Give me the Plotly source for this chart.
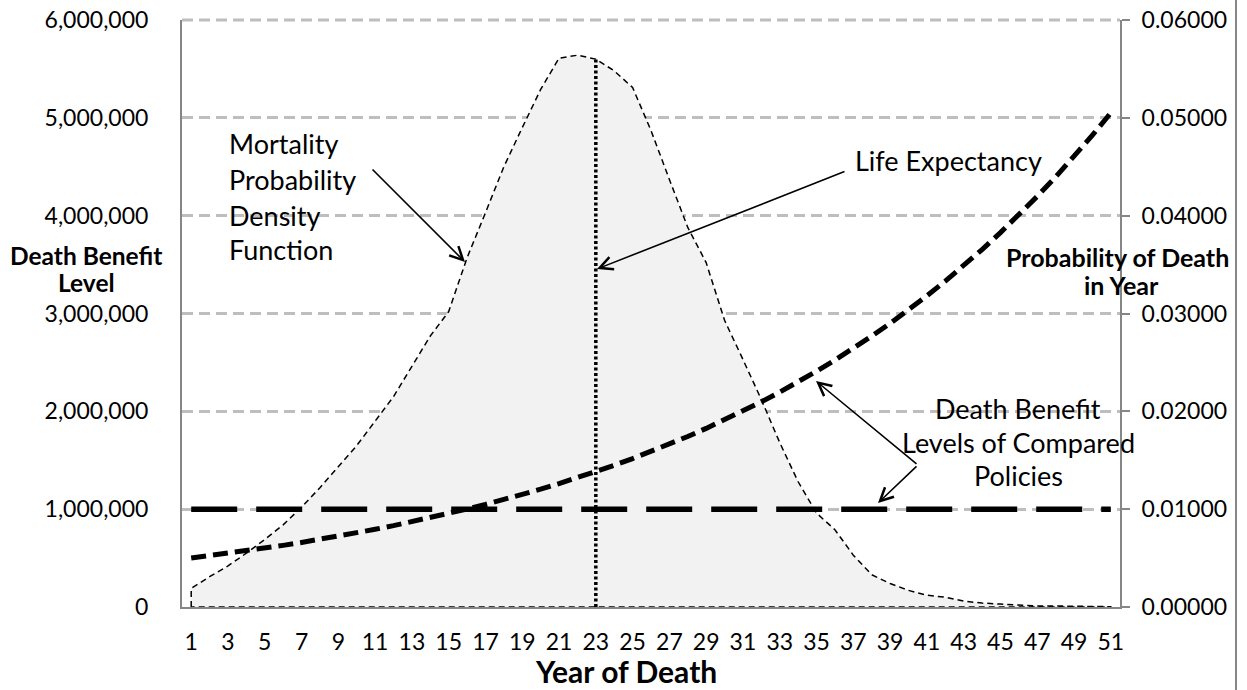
import plotly.graph_objects as go

# ---------------- data ----------------
years = list(range(1, 52))
tick_years = list(range(1, 52, 2))

mortality_density = [
    0.0019, 0.0031, 0.0042, 0.0055, 0.0069, 0.0084, 0.0102, 0.0122, 0.0143, 0.0165,
    0.0190, 0.0215, 0.0246, 0.0277, 0.0302, 0.0357, 0.0403, 0.0450, 0.0490, 0.0529,
    0.0561, 0.0564, 0.0560, 0.0548, 0.0531, 0.0487, 0.0437, 0.0388, 0.0352, 0.0293,
    0.0253, 0.0212, 0.0168, 0.0128, 0.0096, 0.0079, 0.0053, 0.0033, 0.0024, 0.0017,
    0.0012, 0.0010, 0.0006, 0.0004, 0.0003, 0.0002, 0.0001, 0.0001, 0.0001, 0.00005,
    0.00003,
]

increasing_benefit = [
    500000, 523670, 548460, 574424, 601617, 630098, 659927, 691168, 723888, 758157,
    794048, 831638, 871008, 912242, 955427, 1000657, 1048028, 1097641, 1149603, 1204025,
    1261023, 1320719, 1383242, 1448724, 1517306, 1589135, 1664365, 1743155, 1825675, 1912102,
    2002620, 2097423, 2196714, 2300705, 2409619, 2523689, 2643159, 2768285, 2899335, 3036589,
    3180341, 3330897, 3488580, 3653728, 3826694, 4007849, 4197580, 4396293, 4604412, 4822383,
    5050672,
]

level_benefit = [1000000] * 51

life_expectancy_year = 23

left_ticks = [0, 1000000, 2000000, 3000000, 4000000, 5000000, 6000000]
right_ticks = [0.0, 0.01, 0.02, 0.03, 0.04, 0.05, 0.06]

# ---------------- layout geometry ----------------
W, H = 1247, 690
ML, MR, MT, MB = 182, 127, 20, 83
PW, PH = W - ML - MR, H - MT - MB
X0, X1 = 0.5, 51.5
Y0, Y1 = 0, 6000000

def px_x(px):  # pixel -> x data
    return X0 + (px - ML) / PW * (X1 - X0)

def px_y(py):  # pixel -> benefit-axis data
    return Y0 + (MT + PH - py) / PH * (Y1 - Y0)

def pap_x(px):
    return (px - ML) / PW

def pap_y(py):
    return (MT + PH - py) / PH

FONT = "Lato, Calibri, sans-serif"
AXIS_GRAY = "#868686"
GRID_GRAY = "#BEBEBE"
GRID_DASH = "11px,6px"

fig = go.Figure()

# mortality density area (closed polygon) on the base (probability) axis
area_x = [years[0]] + years + [years[-1], years[0]]
area_y = [0] + mortality_density + [0, 0]
fig.add_trace(go.Scatter(
    x=area_x, y=area_y, yaxis="y", mode="lines",
    fill="toself", fillcolor="#F2F2F2",
    line=dict(color="black", width=1.5, dash="6px,4px"),
    hoverinfo="skip", showlegend=False,
))

# life expectancy dotted line
fig.add_trace(go.Scatter(
    x=[life_expectancy_year, life_expectancy_year],
    y=[0, mortality_density[life_expectancy_year - 1]],
    yaxis="y", mode="lines",
    line=dict(color="black", width=3.5, dash="3px,2.5px"),
    showlegend=False,
))

# level death benefit (benefit axis, overlay)
fig.add_trace(go.Scatter(
    x=years, y=level_benefit, yaxis="y2", mode="lines",
    line=dict(color="black", width=5.5, dash="46px,19px"),
    showlegend=False,
))

# increasing death benefit
fig.add_trace(go.Scatter(
    x=years, y=increasing_benefit, yaxis="y2", mode="lines",
    line=dict(color="black", width=5, dash="15px,7px"),
    showlegend=False,
))

annotations = []

def text_ann(txt, px, py, size, bold=False, xanchor="center"):
    annotations.append(dict(
        text=f"<b>{txt}</b>" if bold else txt,
        x=pap_x(px), y=pap_y(py), xref="paper", yref="paper",
        xanchor=xanchor, yanchor="middle", showarrow=False,
        font=dict(family=FONT, size=size, color="black"),
    ))

def arrow_ann(tail, head):
    annotations.append(dict(
        text="", x=px_x(head[0]), y=px_y(head[1]), xref="x", yref="y2",
        ax=px_x(tail[0]), ay=px_y(tail[1]), axref="x", ayref="y2",
        showarrow=True, arrowhead=5, arrowsize=1.6, arrowwidth=1.6,
        arrowcolor="black", standoff=0, startstandoff=0,
    ))

# annotation texts
ANN = 27
text_ann("Mortality", 227, 143, ANN, xanchor="left")
text_ann("Probability", 227, 179, ANN, xanchor="left")
text_ann("Density", 227, 215, ANN, xanchor="left")
text_ann("Function", 227, 250, ANN, xanchor="left")
text_ann("Life Expectancy", 948, 161, ANN)
text_ann("Death Benefit", 1018, 408, ANN)
text_ann("Levels of Compared", 1018, 442, ANN)
text_ann("Policies", 1018, 476, ANN)

# axis titles
text_ann("Death Benefit", 86, 255, 24.5, bold=True)
text_ann("Level", 86, 282, 24.5, bold=True)
text_ann("Probability of Death", 1117, 257, 25, bold=True)
text_ann("in Year", 1121, 285, 25, bold=True)
text_ann("Year of Death", 626, 671, 30, bold=True)

# arrows
arrow_ann((371, 168), (465, 262))
arrow_ann((846, 171), (597, 269))
arrow_ann((918, 465), (816, 381))
arrow_ann((918, 465), (878, 503))

fig.update_layout(
    width=W, height=H,
    margin=dict(l=ML, r=MR, t=MT, b=MB, pad=0, autoexpand=False),
    paper_bgcolor="white", plot_bgcolor="white",
    font=dict(family=FONT, color="black"),
    showlegend=False,
    annotations=annotations,
    xaxis=dict(
        range=[X0, X1], tickmode="array", tickvals=tick_years,
        ticktext=[str(t) for t in tick_years],
        showgrid=False, zeroline=False, automargin=False,
        showline=True, linecolor=AXIS_GRAY, linewidth=2,
        ticks="", ticklabelstandoff=13,
        tickfont=dict(family=FONT, size=23, color="black"),
    ),
    # base axis: probability (right side), carries the dashed gridlines
    yaxis=dict(
        range=[0, 0.06], side="right",
        tickmode="array", tickvals=right_ticks,
        ticktext=[f"{v:.5f}" for v in right_ticks],
        showgrid=True, gridcolor=GRID_GRAY, gridwidth=3, griddash=GRID_DASH,
        zeroline=False, automargin=False,
        showline=True, linecolor=AXIS_GRAY, linewidth=2,
        ticks="outside", ticklen=8, tickwidth=2, tickcolor=AXIS_GRAY,
        ticklabelstandoff=7,
        tickfont=dict(family=FONT, size=23, color="black"),
    ),
    # overlay axis: death benefit (left side)
    yaxis2=dict(
        range=[Y0, Y1], overlaying="y", side="left",
        tickmode="array", tickvals=left_ticks,
        ticktext=[f"{v:,}" for v in left_ticks],
        showgrid=False, zeroline=False, automargin=False,
        showline=True, linecolor=AXIS_GRAY, linewidth=2,
        ticks="", ticklabelstandoff=27,
        tickfont=dict(family=FONT, size=23, color="black"),
    ),
    shapes=[
        # top gridline (at the upper edge of the plot area)
        dict(type="line", xref="paper", yref="paper", layer="below",
             x0=0, x1=1, y0=1, y1=1,
             line=dict(color=GRID_GRAY, width=3, dash=GRID_DASH)),
        # chart frame edge on the right
        dict(type="line", xref="paper", yref="paper",
             x0=pap_x(1236), x1=pap_x(1236), y0=pap_y(0), y1=pap_y(H),
             line=dict(color=AXIS_GRAY, width=2)),
    ],
)

fig.write_html(
    "out.html",
    config={"displayModeBar": False},
    post_script="document.body.style.margin='0';document.body.style.padding='0';",
)
